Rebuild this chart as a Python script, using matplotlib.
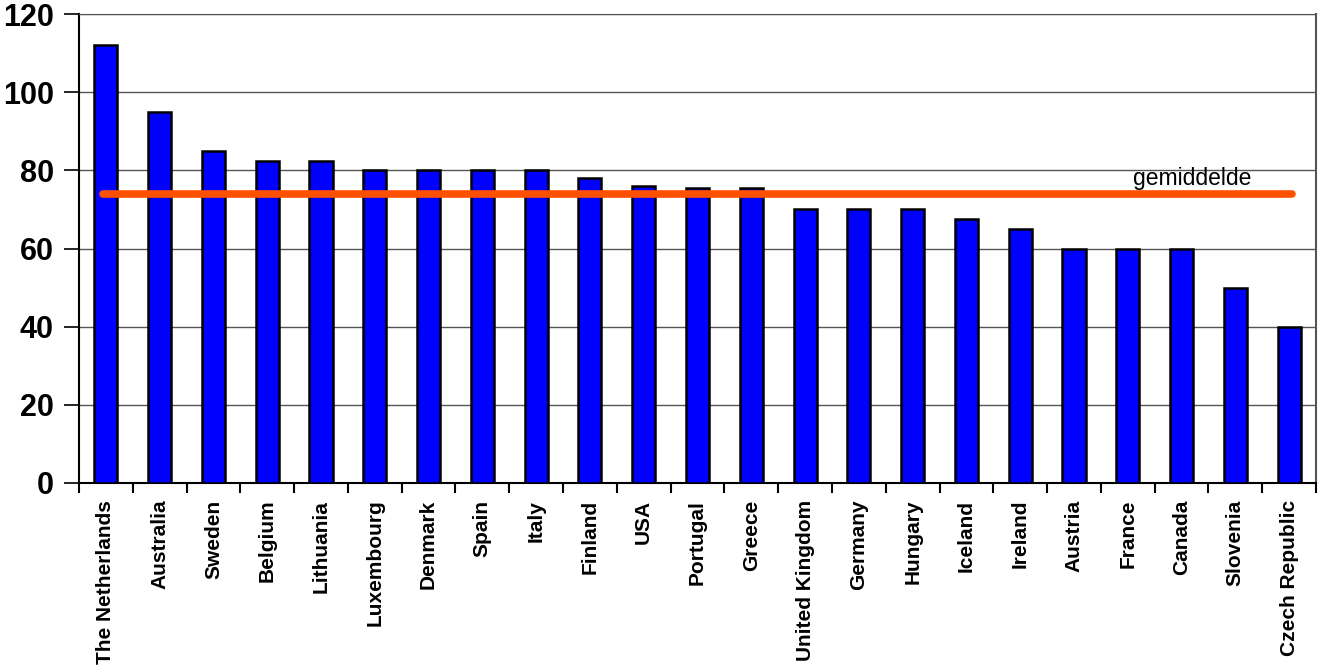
import numpy as np
import matplotlib.pyplot as plt

plt.rcParams['font.family'] = ['Liberation Sans', 'DejaVu Sans']

countries = ['The Netherlands', 'Australia', 'Sweden', 'Belgium', 'Lithuania',
             'Luxembourg', 'Denmark', 'Spain', 'Italy', 'Finland', 'USA',
             'Portugal', 'Greece', 'United Kingdom', 'Germany', 'Hungary',
             'Iceland', 'Ireland', 'Austria', 'France', 'Canada', 'Slovenia',
             'Czech Republic']
values = [112, 95, 85, 82.5, 82.5, 80, 80, 80, 80, 78, 76, 75.5, 75.5,
          70, 70, 70, 67.5, 65, 60, 60, 60, 50, 40]
average = 74
average_label = 'gemiddelde'
yticks = [0, 20, 40, 60, 80, 100, 120]

fig = plt.figure(figsize=(13.29, 6.72), dpi=100)
ax = fig.add_axes([79 / 1329, 1 - 483 / 672, (1316 - 79) / 1329, (483 - 14) / 672])

x = np.arange(len(countries))
ax.bar(x, values, width=0.43, color='#0000FF', edgecolor='black', linewidth=1.8, zorder=3)

# lijn voor het gemiddelde
ax.plot([x[0] - 0.05, x[-1] + 0.05], [average, average], color='#FF5000', linewidth=5.5,
        solid_capstyle='round', zorder=4)
ax.text(19.1, average + 1.0, average_label, fontsize=16.5, ha='left', va='bottom', zorder=5)

ax.set_xlim(-0.5, len(countries) - 0.5)
ax.set_ylim(0, 120)
ax.set_yticks(yticks)
ax.set_yticklabels([str(v) for v in yticks], fontsize=22, fontweight='bold')
ax.yaxis.grid(True, color='#555555', linewidth=1, zorder=0)

ax.set_xticks(x)
ax.set_xticklabels(countries, rotation=90, fontsize=15, fontweight='bold')
ax.set_xticks(np.arange(len(countries) + 1) - 0.5, minor=True)
ax.tick_params(axis='x', which='major', length=0, pad=12)
ax.tick_params(axis='x', which='minor', length=7, width=1.5, direction='out')
ax.tick_params(axis='y', length=11, width=1.2, direction='out', pad=7)

ax.spines['left'].set_linewidth(1.5)
ax.spines['bottom'].set_linewidth(1.5)
ax.spines['top'].set_color('#555555')
ax.spines['right'].set_color('#555555')
ax.spines['right'].set_linewidth(1.5)

fig.savefig('out.png', dpi=100)
